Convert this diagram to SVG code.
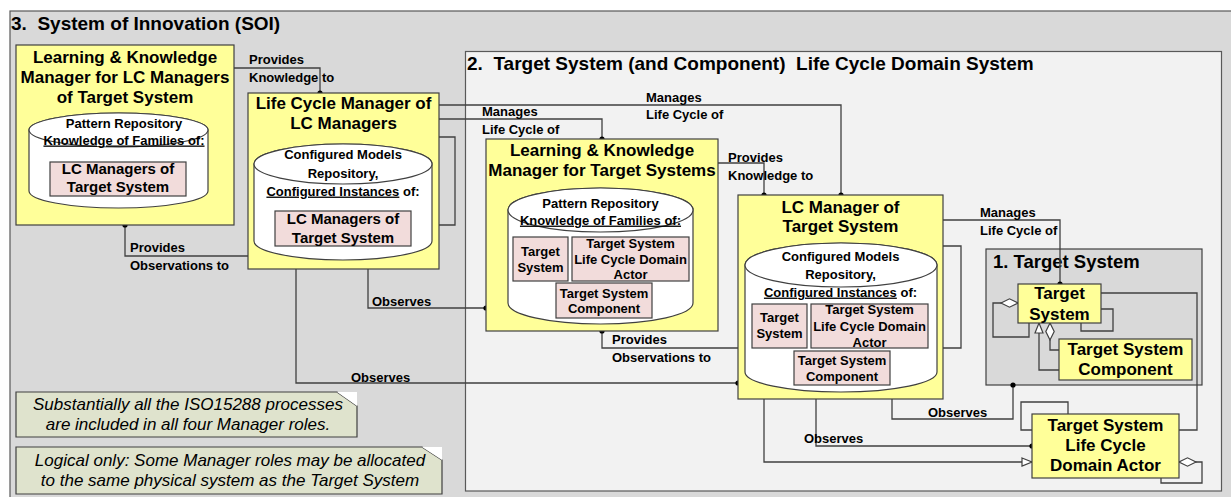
<svg xmlns="http://www.w3.org/2000/svg" width="1231" height="497" viewBox="0 0 1231 497">
<style>
.frame{stroke:#595959;stroke-width:1.2}
.node{fill:#ffff99;stroke:#404040;stroke-width:1.2}
.pink{fill:#f2dcdb;stroke:#404040;stroke-width:1.2}
.cyl{fill:#ffffff;stroke:#404040;stroke-width:1.2}
.conn{fill:none;stroke:#404040;stroke-width:1.3}
.ft{font-family:"Liberation Sans",Arial,sans-serif;font-weight:bold;font-size:19px;fill:#000}
.nt{font-family:"Liberation Sans",Arial,sans-serif;font-weight:bold;font-size:17px;fill:#000;text-anchor:middle}
.ct{font-family:"Liberation Sans",Arial,sans-serif;font-weight:bold;font-size:13px;fill:#000;text-anchor:middle}
.pt{font-family:"Liberation Sans",Arial,sans-serif;font-weight:bold;font-size:15px;fill:#000;text-anchor:middle}
.lt{font-family:"Liberation Sans",Arial,sans-serif;font-weight:bold;font-size:13px;fill:#000}
.note{fill:#dfe3cd;stroke:#404040;stroke-width:1.2}
.ntx{font-family:"Liberation Sans",Arial,sans-serif;font-style:italic;font-size:17px;fill:#000;text-anchor:middle}
</style>
<defs>
<marker id="dot" viewBox="-4 -4 8 8" refX="0" refY="0" markerWidth="8" markerHeight="8" markerUnits="userSpaceOnUse" orient="auto">
<circle cx="0" cy="0" r="2.6" fill="#000"/>
</marker>
<marker id="tri" viewBox="-11 -6 12 12" refX="0" refY="0" markerWidth="12" markerHeight="12" markerUnits="userSpaceOnUse" orient="auto">
<path d="M -10 -4 L 0 0 L -10 4 Z" fill="#fff" stroke="#404040" stroke-width="1.2"/>
</marker>
<marker id="dia" viewBox="-19 -6 20 12" refX="0" refY="0" markerWidth="20" markerHeight="12" markerUnits="userSpaceOnUse" orient="auto">
<path d="M -17 0 L -8.5 -4.2 L 0 0 L -8.5 4.2 Z" fill="#fff" stroke="#404040" stroke-width="1.2"/>
</marker>
</defs>
<rect x="0" y="0" width="1231" height="497" fill="#ffffff"/>
<g id="frame3">
<rect class="frame" x="10" y="11" width="1232" height="497" fill="#d9d9d9"/>
<text class="ft" x="11" y="29.5" xml:space="preserve">3.  System of Innovation (SOI)</text>
</g>
<g id="frame2">
<rect class="frame" x="465.5" y="51.5" width="756" height="439.5" fill="#f2f2f2"/>
<text class="ft" x="467" y="69.5" xml:space="preserve">2.  Target System (and Component)  Life Cycle Domain System</text>
</g>
<g id="frame1">
<rect x="986" y="249" width="216" height="136" fill="#d9d9d9" stroke="#404040" stroke-width="1.2"/>
<text class="ft" x="993" y="267.5" style="font-size:18.5px">1. Target System</text>
</g>
<g id="notes">
<g id="note1">
<path class="note" d="M16 392 H337 L357 406 V437 H16 Z"/>
<path d="M337 392 H357 V406 Z" fill="#ffffff"/>
<text class="ntx" x="188" y="410">Substantially all the ISO15288 processes</text>
<text class="ntx" x="188" y="430">are included in all four Manager roles.</text>
</g>
<g id="note2">
<path class="note" d="M16 447 H422 L442 460 V494 H16 Z"/>
<path d="M422 447 H442 V460 Z" fill="#ffffff"/>
<text class="ntx" x="230" y="466">Logical only: Some Manager roles may be allocated</text>
<text class="ntx" x="230" y="486">to the same physical system as the Target System</text>
</g>
</g>
<g id="connectors">
<path class="conn" d="M234 68 H320 V93" marker-end="url(#dot)"/>
<path class="conn" d="M248 256 H125 V225" marker-end="url(#dot)"/>
<path class="conn" d="M439 137 H455 V225 H439"/>
<path class="conn" d="M439 119 H602 V139" marker-end="url(#dot)"/>
<path class="conn" d="M439 105 H841 V195" marker-end="url(#dot)"/>
<path class="conn" d="M718 163 H764 V195" marker-end="url(#dot)"/>
<path class="conn" d="M368 269 V308 H486" marker-end="url(#dot)"/>
<path class="conn" d="M296 269 V383 H738" marker-end="url(#dot)"/>
<path class="conn" d="M738 348 H602 V331" marker-end="url(#dot)"/>
<path class="conn" d="M943 246 H961 V348 H943"/>
<path class="conn" d="M943 220 H1060 V284" marker-end="url(#dot)"/>
<path class="conn" d="M892 399 V419 H1013 V385" marker-end="url(#dot)"/>
<path class="conn" d="M816 399 V446 H1032" marker-end="url(#dot)"/>
<path class="conn" d="M764 399 V462 H1032" marker-end="url(#tri)"/>
<path class="conn" d="M1029 323 V337 H993 V303 H1018" marker-end="url(#dia)"/>
<path class="conn" d="M1101 309 H1113 V331 H1081 V323"/>
<path class="conn" d="M1059 350 H1050 V323" marker-end="url(#dia)"/>
<path class="conn" d="M1059 370 H1039 V323" marker-end="url(#tri)"/>
<path class="conn" d="M1101 293 H1197 V430 H1179"/>
<path class="conn" d="M1068 414 V402 H1021 V430 H1032"/>
<path class="conn" d="M1161 478 V483 H1202 V462 H1179" marker-end="url(#dia)"/>
<text class="lt" x="249" y="63.6">Provides</text>
<text class="lt" x="249" y="81.6">Knowledge to</text>
<text class="lt" x="130" y="251.6">Provides</text>
<text class="lt" x="130" y="269.6">Observations to</text>
<text class="lt" x="482" y="115.6">Manages</text>
<text class="lt" x="482" y="133.6">Life Cycle of</text>
<text class="lt" x="646" y="101.6">Manages</text>
<text class="lt" x="646" y="118.6">Life Cycle of</text>
<text class="lt" x="728" y="161.6">Provides</text>
<text class="lt" x="728" y="179.6">Knowledge to</text>
<text class="lt" x="372" y="305.6">Observes</text>
<text class="lt" x="351" y="381.6">Observes</text>
<text class="lt" x="612" y="343.6">Provides</text>
<text class="lt" x="612" y="361.6">Observations to</text>
<text class="lt" x="980" y="216.6">Manages</text>
<text class="lt" x="980" y="234.6">Life Cycle of</text>
<text class="lt" x="928" y="416.6">Observes</text>
<text class="lt" x="804" y="442.6">Observes</text>
</g>
<g id="nodeA">
<rect class="node" x="16" y="45" width="218" height="180"/>
<text class="nt" x="125" y="63">Learning &amp; Knowledge</text>
<text class="nt" x="125" y="83">Manager for LC Managers</text>
<text class="nt" x="125" y="103">of Target System</text>
<path class="cyl" d="M29 130 A89.5 17 0 0 1 208 130 V191 A89.5 17 0 0 1 29 191 Z"/>
<ellipse class="cyl" cx="118.5" cy="130" rx="89.5" ry="17"/>
<text class="ct" x="124" y="127.5">Pattern Repository</text>
<text class="ct" x="124" y="144.5" text-decoration="underline">Knowledge of Families of:</text>
<rect class="pink" x="50" y="162" width="136" height="34"/>
<text class="pt" x="118" y="174.3">LC Managers of</text>
<text class="pt" x="118" y="192.3">Target System</text>
</g>
<g id="nodeB">
<rect class="node" x="248" y="93" width="191" height="176"/>
<text class="nt" x="343.5" y="109">Life Cycle Manager of</text>
<text class="nt" x="343.5" y="129">LC Managers</text>
<path class="cyl" d="M254 164 A89 20 0 0 1 432 164 V241 A89 19 0 0 1 254 241 Z"/>
<ellipse class="cyl" cx="343" cy="164" rx="89" ry="20"/>
<text class="ct" x="343" y="158.6">Configured Models</text>
<text class="ct" x="343" y="177.6">Repository,</text>
<text class="ct" x="343" y="195.6"><tspan text-decoration="underline">Configured Instances</tspan> of:</text>
<rect class="pink" x="275" y="211" width="136" height="35"/>
<text class="pt" x="343" y="224.3">LC Managers of</text>
<text class="pt" x="343" y="243.3">Target System</text>
</g>
<g id="nodeC">
<rect class="node" x="486" y="139" width="232" height="192"/>
<text class="nt" x="602" y="156">Learning &amp; Knowledge</text>
<text class="nt" x="602" y="176">Manager for Target Systems</text>
<path class="cyl" d="M508 210 A92.5 22 0 0 1 693 210 V303 A92.5 21 0 0 1 508 303 Z"/>
<ellipse class="cyl" cx="600.5" cy="210" rx="92.5" ry="22"/>
<text class="ct" x="600.5" y="207.6">Pattern Repository</text>
<text class="ct" x="600.5" y="224.6" text-decoration="underline">Knowledge of Families of:</text>
<rect class="pink" x="513" y="237" width="55" height="44"/>
<text class="ct" x="540.5" y="255.6">Target</text>
<text class="ct" x="540.5" y="271.6">System</text>
<rect class="pink" x="572" y="237" width="117" height="44"/>
<text class="ct" x="630.5" y="247.6">Target System</text>
<text class="ct" x="630.5" y="263.6">Life Cycle Domain</text>
<text class="ct" x="630.5" y="278.6">Actor</text>
<rect class="pink" x="556" y="283" width="96" height="35"/>
<text class="ct" x="604" y="297.6">Target System</text>
<text class="ct" x="604" y="312.6">Component</text>
</g>
<g id="nodeD">
<rect class="node" x="738" y="195" width="205" height="204"/>
<text class="nt" x="840.5" y="213">LC Manager of</text>
<text class="nt" x="840.5" y="232">Target System</text>
<path class="cyl" d="M745 265 A96 22 0 0 1 937 265 V372 A96 20 0 0 1 745 372 Z"/>
<ellipse class="cyl" cx="841" cy="265" rx="96" ry="22"/>
<text class="ct" x="840.5" y="260.6">Configured Models</text>
<text class="ct" x="840.5" y="278.6">Repository,</text>
<text class="ct" x="840.5" y="296.6"><tspan text-decoration="underline">Configured Instances</tspan> of:</text>
<rect class="pink" x="752" y="304" width="55" height="44"/>
<text class="ct" x="779.5" y="321.6">Target</text>
<text class="ct" x="779.5" y="337.6">System</text>
<rect class="pink" x="811" y="304" width="117" height="44"/>
<text class="ct" x="869.5" y="313.6">Target System</text>
<text class="ct" x="869.5" y="330.6">Life Cycle Domain</text>
<text class="ct" x="869.5" y="346.6">Actor</text>
<rect class="pink" x="794" y="351" width="96" height="34"/>
<text class="ct" x="842" y="364.6">Target System</text>
<text class="ct" x="842" y="380.6">Component</text>
</g>
<g id="nodeE">
<rect class="node" x="1018" y="284" width="83" height="39"/>
<text class="nt" x="1059.5" y="299">Target</text>
<text class="nt" x="1059.5" y="320">System</text>
</g>
<g id="nodeF">
<rect class="node" x="1059" y="339" width="133" height="41"/>
<text class="nt" x="1125.5" y="355">Target System</text>
<text class="nt" x="1125.5" y="375">Component</text>
</g>
<g id="nodeG">
<rect class="node" x="1032" y="414" width="147" height="64"/>
<text class="nt" x="1105.5" y="431">Target System</text>
<text class="nt" x="1105.5" y="451">Life Cycle</text>
<text class="nt" x="1105.5" y="471">Domain Actor</text>
</g>
</svg>
